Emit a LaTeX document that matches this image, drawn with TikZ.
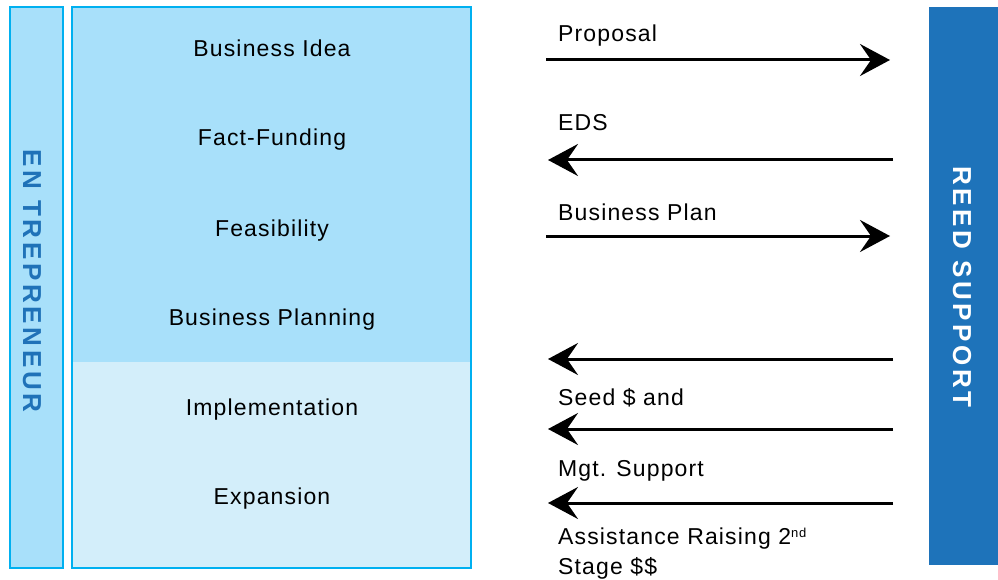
\documentclass[tikz,border=0pt]{standalone}
\usepackage{fontspec}
\setmainfont{Liberation Sans}
\newfontfamily\lblfont[LetterSpace=5]{Liberation Sans}
\newfontfamily\sidefont[LetterSpace=14]{Liberation Sans}
\usetikzlibrary{arrows.meta}
\definecolor{cyanline}{RGB}{0,176,240}
\definecolor{topfill}{RGB}{168,224,250}
\definecolor{botfill}{RGB}{211,238,250}
\definecolor{reedblue}{RGB}{30,115,186}
\definecolor{entblue}{RGB}{31,114,184}

\begin{document}
\begin{tikzpicture}[x=1pt, y=-1pt,
    stage/.style = {text height=17pt, text depth=5pt, font=\lblfont\fontsize{23}{27}\selectfont},
    lbl/.style = {anchor=west, inner sep=0pt, text height=17pt, text depth=5pt, align=left, font=\lblfont\fontsize{23}{30}\selectfont},
    flow/.style = {-{Stealth[length=30pt, width=32pt, inset=11pt]}, line width=3pt},
    side/.style = {rotate=-90, font=\sidefont\bfseries\fontsize{26}{30}\selectfont}]
    \useasboundingbox (0,0) rectangle (998,580);
    % left bar and stage box
    \draw[cyanline, line width=2pt, fill=topfill] (10,7) rectangle (63,568);
    \fill[topfill] (72,7) rectangle (471,362);
    \fill[botfill] (72,362) rectangle (471,568);
    \draw[cyanline, line width=2pt] (72,7) rectangle (471,568);
    \node[side, text=entblue] (ent) at (32,281) {EN TREPRENEUR};
    % right bar
    \fill[reedblue] (929,7) rectangle (998,565);
    \node[side, text=white] (reed) at (962,287) {REED SUPPORT};
    % stages
    \node[stage] (idea) at (272,51) {Business Idea};
    \node[stage] (fact) at (272,140) {Fact-Funding};
    \node[stage] (feas) at (272,230) {Feasibility};
    \node[stage] (plan) at (272,319) {Business Planning};
    \node[stage] (impl) at (272,409) {Implementation};
    \node[stage] (expa) at (272,498) {Expansion};
    % arrows
    \coordinate (a1) at (546,60);  \coordinate (b1) at (890,60);
    \coordinate (a2) at (548,160); \coordinate (b2) at (893,160);
    \coordinate (a3) at (546,236); \coordinate (b3) at (890,236);
    \coordinate (a4) at (548,359); \coordinate (b4) at (893,359);
    \coordinate (a5) at (548,429); \coordinate (b5) at (893,429);
    \coordinate (a6) at (548,503); \coordinate (b6) at (893,503);
    \draw[flow] (a1) -- (b1);
    \draw[flow] (b2) -- (a2);
    \draw[flow] (a3) -- (b3);
    \draw[flow] (b4) -- (a4);
    \draw[flow] (b5) -- (a5);
    \draw[flow] (b6) -- (a6);
    % labels
    \node[lbl] (prop) at (558,36) {Proposal};
    \node[lbl] (eds) at (558,125) {EDS};
    \node[lbl] (bplan) at (558,215) {Business Plan};
    \node[lbl] (seed) at (558,399) {Seed \$ and};
    \node[lbl] (mgt) at (558,470) {Mgt. Support};
    \node[lbl, text height=, text depth=] (assist) at (558,554) {Assistance Raising 2{\fontsize{13}{13}\selectfont\raisebox{7pt}{nd}}\\Stage \$\$};
\end{tikzpicture}
\end{document}
